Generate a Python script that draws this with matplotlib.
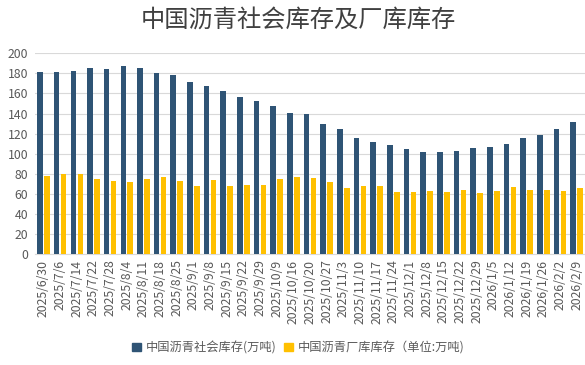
import numpy as np
import matplotlib
matplotlib.use("Agg")
import matplotlib.pyplot as plt
from matplotlib.patches import Patch

plt.rcParams['font.family'] = ['Noto Sans CJK SC', 'DejaVu Sans']

# ----------------- DATOS -----------------
fechas = ["2025/6/30", "2025/7/6", "2025/7/14", "2025/7/22", "2025/7/28", "2025/8/4",
          "2025/8/11", "2025/8/18", "2025/8/25", "2025/9/1", "2025/9/8", "2025/9/15",
          "2025/9/22", "2025/9/29", "2025/10/9", "2025/10/16", "2025/10/20", "2025/10/27",
          "2025/11/3", "2025/11/10", "2025/11/17", "2025/11/24", "2025/12/1", "2025/12/8",
          "2025/12/15", "2025/12/22", "2025/12/29", "2026/1/5", "2026/1/12", "2026/1/19",
          "2026/1/26", "2026/2/2", "2026/2/9"]

social = [181, 181, 182, 185, 184, 187, 185, 180, 178, 171, 167, 162, 156, 152, 147, 141,
          140, 130, 125, 116, 112, 109, 105, 102, 102, 103, 106, 107, 110, 116, 119, 125, 132]

fabrica = [78, 80, 80, 75, 73, 72, 75, 77, 73, 68, 74, 68, 69, 69, 75, 77,
           76, 72, 66, 68, 68, 62, 62, 63, 62, 64, 61, 63, 67, 64, 64, 63, 66]

lbl_social = "中国沥青社会库存(万吨)"
lbl_fabrica = "中国沥青厂库库存（单位:万吨)"
titulo = "中国沥青社会库存及厂库库存"

color_azul = "#2F5475"
color_amarillo = "#FFC000"
gris = "#595959"

# ----------------- GRÁFICA -----------------
fig = plt.figure(figsize=(5.85, 3.65), dpi=100)
ax = fig.add_axes([0.06, 0.304, 0.94, 0.55])

x = np.arange(len(fechas))
w = 0.33
ax.bar(x - 0.21, social, width=w, color=color_azul, zorder=3)
ax.bar(x + 0.21, fabrica, width=w, color=color_amarillo, zorder=3)

ax.set_xlim(-0.5, len(fechas) - 0.5)
ax.set_ylim(0, 200)
ax.set_yticks(np.arange(0, 201, 20))
ax.yaxis.grid(True, color="#d9d9d9", linewidth=0.8, zorder=0)
for s in ["top", "right", "left"]:
    ax.spines[s].set_visible(False)
ax.spines["bottom"].set_color("#d9d9d9")

ax.set_xticks(x)
ax.set_xticklabels(fechas, rotation=90, fontsize=8.8, color=gris)
ax.tick_params(axis="y", labelsize=8.8, colors=gris, length=0, pad=5)
ax.tick_params(axis="x", length=0, pad=4)

fig.text(0.51, 0.945, titulo, ha="center", va="center", fontsize=17.5, color="#404040")

handles = [Patch(color=color_azul), Patch(color=color_amarillo)]
fig.legend(handles, [lbl_social, lbl_fabrica], loc="center", bbox_to_anchor=(0.51, 0.047),
           ncol=2, frameon=False, fontsize=8.8, handlelength=0.7, handleheight=0.7,
           handletextpad=0.4, columnspacing=0.6, labelcolor=gris)

fig.savefig("out.png", dpi=100)
